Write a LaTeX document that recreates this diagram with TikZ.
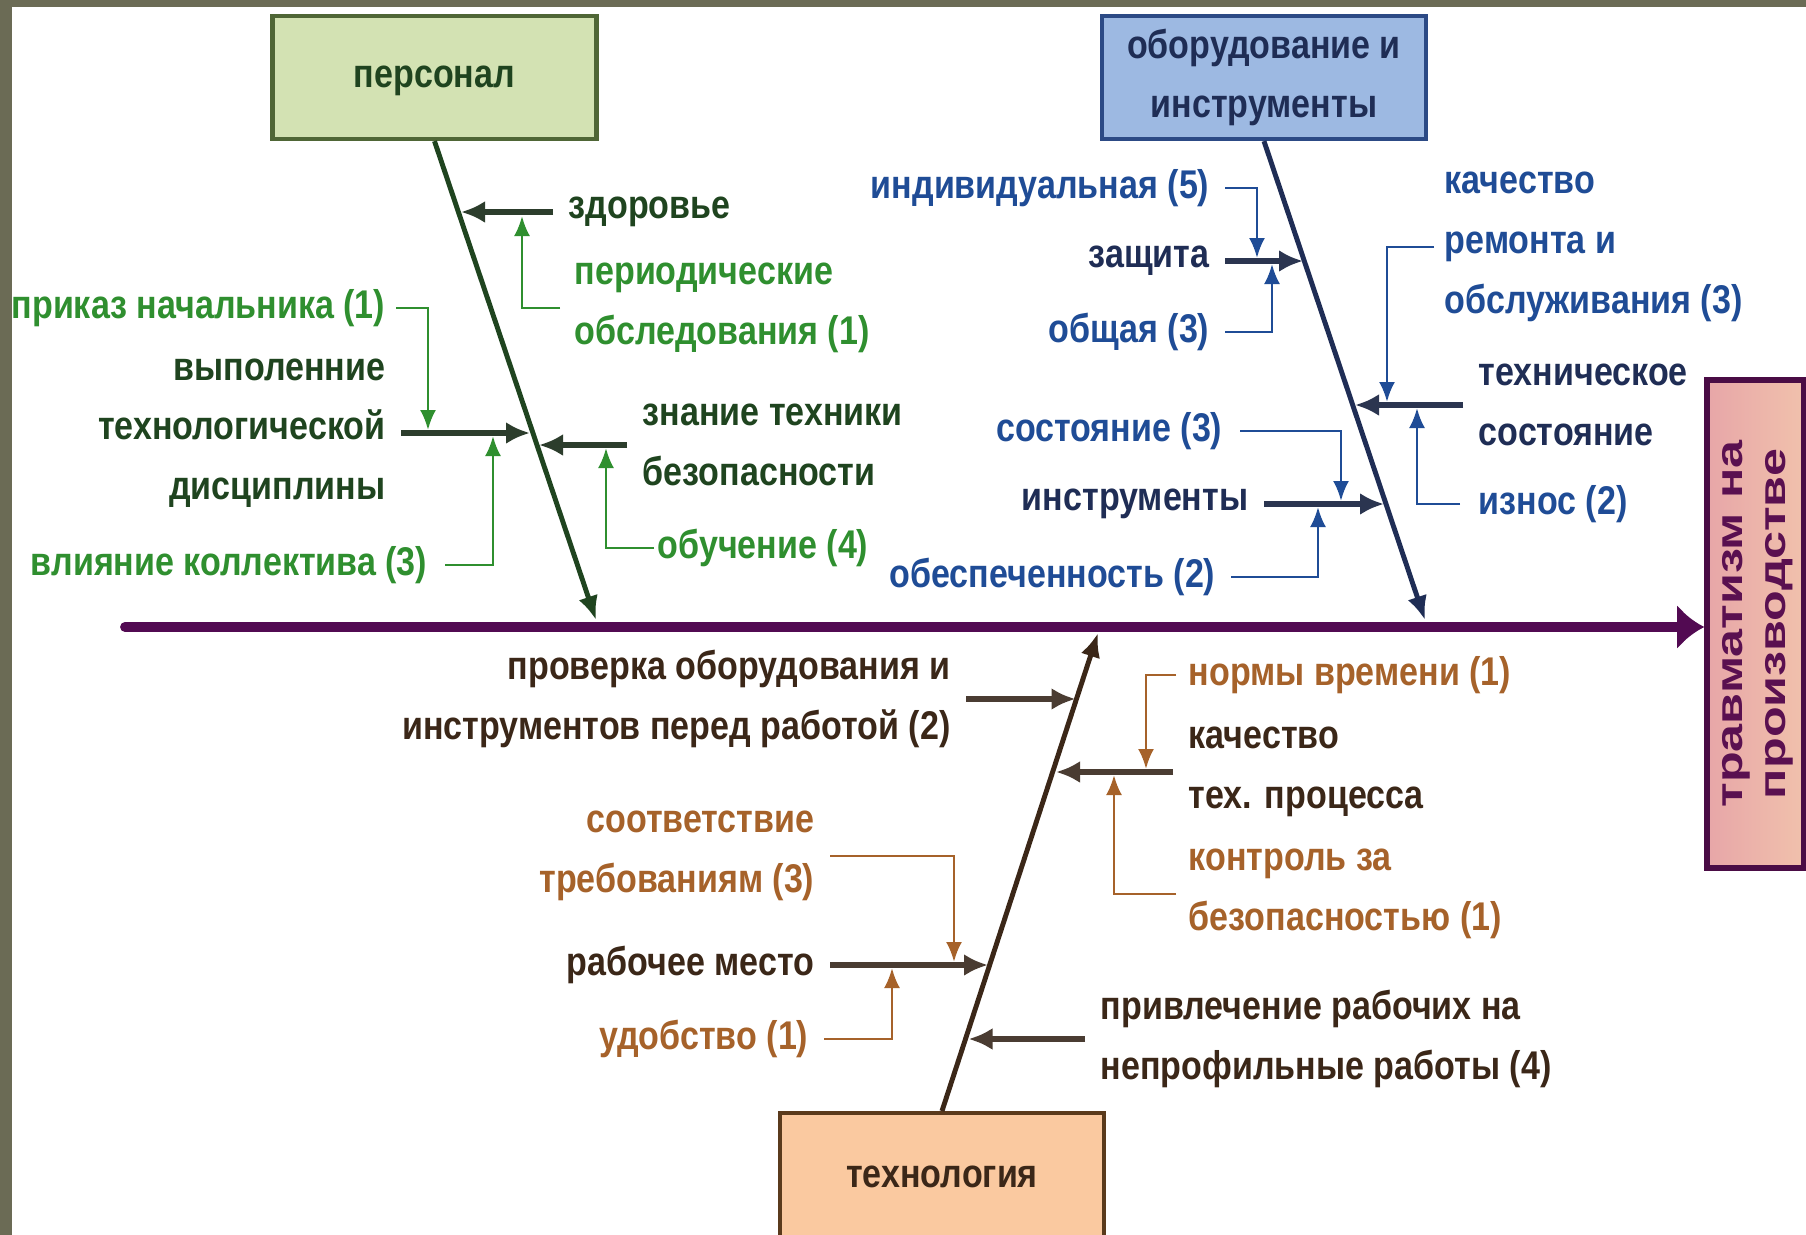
\documentclass[tikz,border=0pt]{standalone}
\usepackage{fontspec}
\usepackage{graphicx}
\usetikzlibrary{arrows.meta}
\newfontfamily\narrowfont{Liberation Sans}[FakeStretch=0.85]
\newfontfamily\widefont{Liberation Sans}[FakeStretch=1.35]
\newcommand{\lblsize}{\fontsize{11.4}{17}\selectfont}

\definecolor{frame}{HTML}{6B6B55}
\definecolor{spineC}{HTML}{520A52}
\definecolor{perFill}{HTML}{D3E2B3}
\definecolor{perLine}{HTML}{4F6636}
\definecolor{perDark}{HTML}{1F441F}
\definecolor{perRib}{HTML}{2C3D2C}
\definecolor{perGreen}{HTML}{2F8F2F}
\definecolor{eqFill}{HTML}{9DB9E2}
\definecolor{eqLine}{HTML}{2C4A85}
\definecolor{eqDark}{HTML}{1F2D55}
\definecolor{eqRib}{HTML}{2B3550}
\definecolor{eqBlue}{HTML}{1F4C96}
\definecolor{teFill}{HTML}{FAC9A0}
\definecolor{teLine}{HTML}{5A3A1C}
\definecolor{teDark}{HTML}{3B2718}
\definecolor{teRib}{HTML}{4A3C32}
\definecolor{teOrange}{HTML}{A6622A}
\definecolor{efLeft}{HTML}{E7A6A8}
\definecolor{efRight}{HTML}{F1C1AC}
\definecolor{efLine}{HTML}{4A0C45}
\definecolor{efText}{HTML}{5A1050}

\begin{document}
\begin{tikzpicture}[x=1cm, y=-1cm,
    box/.style={draw, line width=1.2pt, minimum width=3.24cm, minimum height=1.23cm,
        inner sep=0pt, align=center, font=\lblsize\narrowfont\bfseries},
    lbl/.style={inner sep=0pt, font=\lblsize\narrowfont\bfseries},
    bone/.style={line width=1.4pt, -{Latex[length=2.4mm, width=2mm]}},
    rib/.style={line width=1.6pt, shorten <=1.5mm, -{Latex[length=2.4mm, width=2.2mm]}},
    twig/.style={line width=0.8pt, -{Latex[length=2mm, width=1.6mm]}}]
\fill[frame] (0,0) rectangle (18.06,12.35);
\fill[white] (0.12,0.07) rectangle (18.06,12.35);
\useasboundingbox (0,0) rectangle (18.06,12.35);

% boxes
\node[box, fill=perFill, draw=perLine, text=perDark, text height=8.2pt, text depth=2.4pt] (per) at (4.345,0.775) {персонал};
\node[box, fill=eqFill, draw=eqLine, text=eqDark] (eq) at (12.64,0.775) {оборудование и\\инструменты};
\node[box, fill=teFill, draw=teLine, text=teDark, minimum height=1.28cm, anchor=north] (te) at (9.42,11.11) {технология};
\node[draw=efLine, line width=1.6pt, left color=efLeft, right color=efRight, minimum width=0.97cm, minimum height=4.88cm,
    inner sep=0pt, text=efText, font=\fontsize{10.6}{12}\selectfont\widefont\bfseries] (eff) at (17.555,6.24)
    {\rotatebox{90}{\begin{tabular}{@{}c@{}}травматизм на\\производстве\end{tabular}}};

% spine
\coordinate (spS) at (1.25,6.27);
\draw[spineC, line width=2.8pt, line cap=round, -{Latex[length=2.7mm, width=4.5mm]}] (spS) -- (spS -| eff.west);

% bones
\coordinate (perTip) at (5.96,6.20);
\coordinate (eqTip) at (14.25,6.20);
\coordinate (teTip) at (10.98,6.33);
\draw[bone, perDark] (per.south) -- (perTip);
\draw[bone, eqDark] (eq.south) -- (eqTip);
\draw[bone, teDark] (te.north) -- (teTip);

% персонал
\node[lbl, anchor=west, text=perDark] (p1) at (5.68,2.12) {здоровье};
\node[lbl, anchor=west, align=left, text=perGreen] (p2) at (5.74,3.08) {периодические\\обследования (1)};
\node[lbl, anchor=east, text=perGreen] (p3) at (3.86,3.08) {приказ начальника (1)};
\node[lbl, anchor=east, align=right, text=perDark] (p4) at (3.86,4.33) {выполенние\\технологической\\дисциплины};
\node[lbl, anchor=east, text=perGreen] (p5) at (4.28,5.65) {влияние коллектива (3)};
\node[lbl, anchor=west, align=left, text=perDark] (p6) at (6.42,4.45) {знание техники\\безопасности};
\node[lbl, anchor=west, text=perGreen] (p7) at (6.57,5.48) {обучение (4)};
\coordinate (tp1) at (4.61,2.12);
\coordinate (tp4) at (5.30,4.33);
\coordinate (tp6) at (5.39,4.45);
\coordinate (tp2) at (5.22,2.16);
\coordinate (tp3) at (4.28,4.30);
\coordinate (tp5) at (4.93,4.36);
\coordinate (tp7) at (6.06,4.48);
\foreach \n in {p1,p4,p6} {
    \draw[rib, perRib] (\n) -- (t\n);
}
\foreach \n/\s in {p2/1.4,p3/1,p5/1.7,p7/0.3} {
    \draw[twig, perGreen, shorten <=\s mm] (\n) -| (t\n);
}

% оборудование и инструменты
\node[lbl, anchor=east, text=eqBlue] (e1) at (12.10,1.88) {индивидуальная (5)};
\node[lbl, anchor=east, text=eqDark] (e2) at (12.10,2.61) {защита};
\node[lbl, anchor=east, text=eqBlue] (e3) at (12.10,3.32) {общая (3)};
\node[lbl, anchor=west, align=left, text=eqBlue] (e4) at (14.44,2.47) {качество\\ремонта и\\обслуживания (3)};
\node[lbl, anchor=west, align=left, text=eqDark] (e5) at (14.78,4.05) {техническое\\состояние};
\node[lbl, anchor=west, text=eqBlue] (e6) at (14.78,5.04) {износ (2)};
\node[lbl, anchor=east, text=eqBlue] (e7) at (12.23,4.31) {состояние (3)};
\node[lbl, anchor=east, text=eqDark] (e8) at (12.49,5.04) {инструменты};
\node[lbl, anchor=east, text=eqBlue] (e9) at (12.16,5.77) {обеспеченность (2)};
\coordinate (te2) at (13.03,2.61);
\coordinate (te5) at (13.55,4.05);
\coordinate (te8) at (13.84,5.04);
\coordinate (te1) at (12.57,2.58);
\coordinate (te3) at (12.72,2.64);
\coordinate (te4) at (13.87,4.02);
\coordinate (te6) at (14.17,4.08);
\coordinate (te7) at (13.41,5.01);
\coordinate (te9) at (13.18,5.07);
\foreach \n in {e2,e5,e8} {
    \draw[rib, eqRib] (\n) -- (t\n);
}
\foreach \n/\s in {e1/1.5,e3/1.5,e4/1,e6/1.8,e7/1.7,e9/1.5} {
    \draw[twig, eqBlue, shorten <=\s mm] (\n) -| (t\n);
}

% технология
\node[lbl, anchor=east, align=right, text=teDark] (t1) at (9.51,6.99) {проверка оборудования и\\инструментов перед работой (2)};
\node[lbl, anchor=west, text=teOrange] (t2) at (11.88,6.75) {нормы времени (1)};
\node[lbl, anchor=west, align=left, text=teDark] (t3) at (11.88,7.72) {качество\\тех. процесса};
\node[lbl, anchor=west, align=left, text=teOrange] (t4) at (11.88,8.94) {контроль за\\безопасностью (1)};
\node[lbl, anchor=east, align=right, text=teOrange] (t5) at (8.15,8.56) {соответствие\\требованиям (3)};
\node[lbl, anchor=east, text=teDark] (t6) at (8.15,9.65) {рабочее место};
\node[lbl, anchor=east, text=teOrange] (t7) at (8.09,10.39) {удобство (1)};
\node[lbl, anchor=west, align=left, text=teDark] (t8) at (11.00,10.39) {привлечение рабочих на\\непрофильные работы (4)};
\coordinate (tt1) at (10.755,6.99);
\coordinate (tt3) at (10.56,7.72);
\coordinate (tt6) at (9.88,9.65);
\coordinate (tt8) at (9.685,10.39);
\coordinate (tt2) at (11.46,7.69);
\coordinate (tt4) at (11.14,7.75);
\coordinate (tt5) at (9.54,9.62);
\coordinate (tt7) at (8.92,9.68);
\foreach \n in {t1,t3,t6,t8} {
    \draw[rib, teRib] (\n) -- (t\n);
}
\foreach \n/\s in {t2/1.2,t4/1.2,t5/1.5,t7/1.5} {
    \draw[twig, teOrange, shorten <=\s mm] (\n) -| (t\n);
}
\end{tikzpicture}
\end{document}
